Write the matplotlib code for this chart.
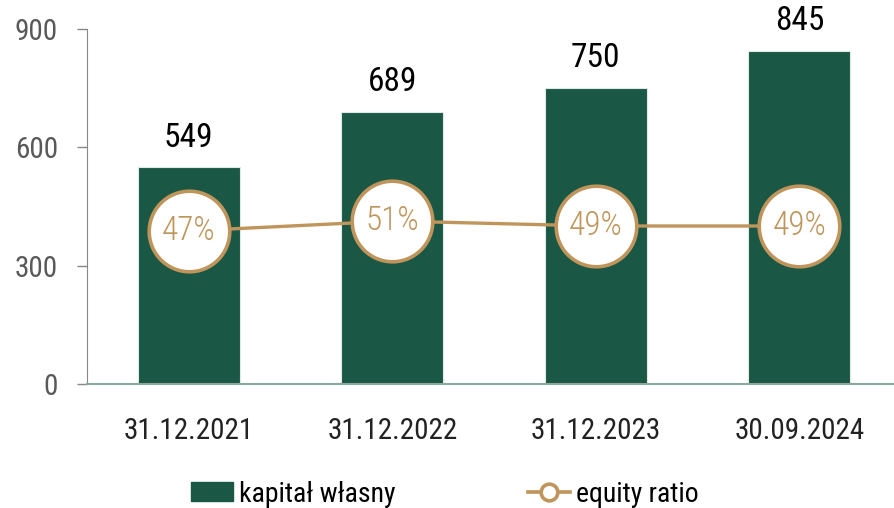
import matplotlib
matplotlib.use('Agg')
import matplotlib.pyplot as plt
from matplotlib import font_manager
from matplotlib.lines import Line2D
from matplotlib.patches import Patch

categories = ['31.12.2021', '31.12.2022', '31.12.2023', '30.09.2024']
equity = [549, 689, 750, 845]
ratio = [47, 51, 49, 49]
ratio_labels = ['47%', '51%', '49%', '49%']
yticks = [0, 300, 600, 900]

GREEN = '#1a5744'
GOLD = '#c0955c'
GRAY = '#595959'

names = {f.name for f in font_manager.fontManager.ttflist}
family = 'DejaVu Sans'
for cand in ['Roboto Condensed', 'Liberation Sans Narrow', 'DejaVu Sans Condensed', 'Liberation Sans']:
    if cand in names:
        family = cand
        break
plt.rcParams['font.family'] = [family, 'DejaVu Sans']

fig = plt.figure(figsize=(8.95, 5.08), dpi=100)
ax = fig.add_axes([87/895, 1-384/508, 808/895, 355/508])
x = list(range(len(categories)))

ax.bar(x, equity, width=0.5, color=GREEN, edgecolor='#dfe8e3', linewidth=0.8, zorder=2)
for xi, v in zip(x, equity):
    ax.annotate(str(v), (xi, v), xytext=(0, 10), textcoords='offset points',
                ha='center', va='bottom', fontsize=24, color='black')

ax.set_xlim(-0.5, 3.47)
ax.set_ylim(0, 900)
ax.set_yticks(yticks)
ax.set_xticks(x)
ax.set_xticklabels(categories)
ax.tick_params(axis='y', length=7, width=1, color='#888888', labelsize=21, labelcolor=GRAY, pad=14)
ax.tick_params(axis='x', length=0, labelsize=21, labelcolor='#222222', pad=24)
for s in ['top', 'right']:
    ax.spines[s].set_visible(False)
ax.spines['left'].set_color('#888888')
ax.spines['bottom'].set_color('#8aa99a')
ax.spines['bottom'].set_linewidth(1.5)

ax2 = ax.twinx()
ax2.set_ylim(-14.2, 127.8)
ax2.axis('off')
ax2.plot(x, ratio, color=GOLD, linewidth=2.4, marker='o', markersize=58,
         markerfacecolor='white', markeredgecolor=GOLD, markeredgewidth=2.6, zorder=3)
for xi, r, lab in zip(x, ratio, ratio_labels):
    ax2.text(xi, r, lab, ha='center', va='center', fontsize=24, color=GOLD,
             fontweight='light', zorder=4)

handles = [Patch(facecolor=GREEN, edgecolor=GREEN),
           Line2D([], [], color=GOLD, linewidth=2.6, marker='o', markersize=12,
                  markerfacecolor='white', markeredgecolor=GOLD, markeredgewidth=2.6)]
fig.legend(handles, ['kapitał własny', 'equity ratio'], loc='center', ncol=2,
           bbox_to_anchor=(0.497, 1-494/508), frameon=False, fontsize=20,
           handlelength=1.5, handleheight=0.65, handletextpad=0.2, columnspacing=4.8)

fig.savefig('out.png', dpi=100)
